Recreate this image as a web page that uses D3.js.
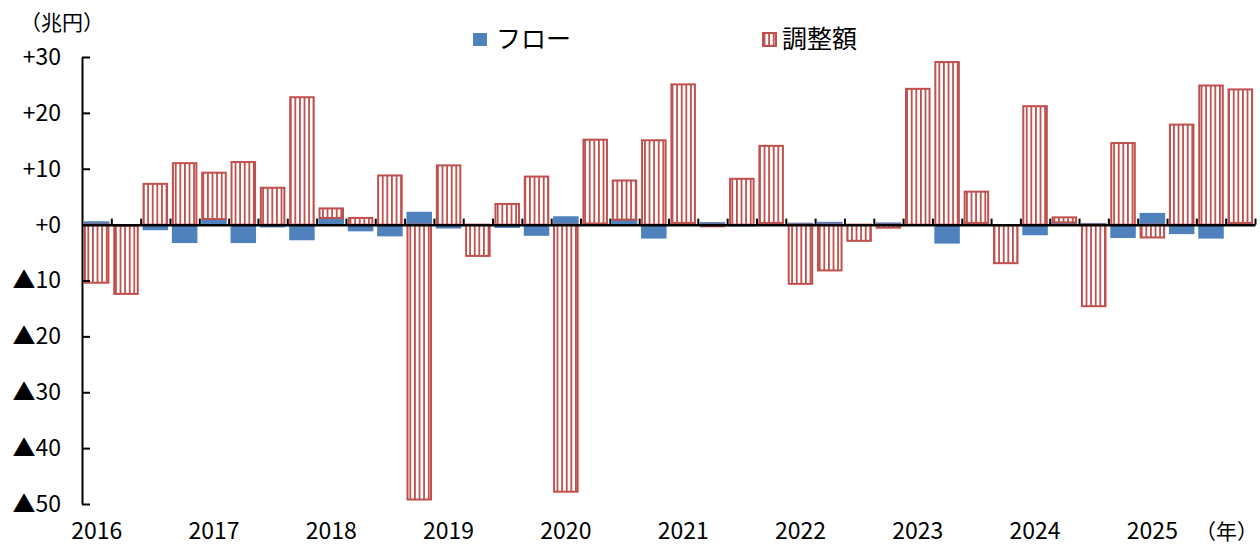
<!DOCTYPE html>
<html>
<head>
<meta charset="utf-8">
<script src="https://cdn.jsdelivr.net/npm/d3@7"></script>
<style>
  body { margin: 0; background: #fff; }
  text { font-family: "Noto Sans CJK JP", "Noto Sans", sans-serif; fill: #000; }
</style>
</head>
<body>
<div id="chart"></div>
<script>
var width = 1260;
var height = 547;

// years on the axis, one label per first quarter
var years = ["2016", "2017", "2018", "2019", "2020", "2021", "2022", "2023", "2024", "2025"];
var quarters = years.flatMap(function(y) { return ["Q1", "Q2", "Q3", "Q4"].map(function(q) { return y + q; }); });

// フロー (兆円)
var flow = [0.6, -0.2, -1.0, -3.3, 1.0, -3.3, -0.5, -2.8,
            1.2, -1.2, -2.1, 2.3, -0.7, 0.1, -0.6, -2.0,
            1.5, 0.2, 0.9, -2.5, 0.3, 0.45, -0.35, 0.3,
            0.35, 0.5, 0.1, 0.4, -0.2, -3.4, 0.3, -0.1,
            -1.9, 0.4, 0.3, -2.4, 2.1, -1.7, -2.5, 0.3];

// 調整額 (兆円)
var adjustment = [-10.4, -12.2, 7.3, 11.0, 8.3, 11.2, 6.6, 22.8,
                  1.7, 1.2, 8.8, -49.2, 10.6, -5.6, 3.7, 8.6,
                  -47.8, 15.0, 7.0, 15.1, 24.8, -0.3, 8.2, 13.8,
                  -10.6, -8.2, -2.9, -0.55, 24.3, 29.1, 5.6, -6.8,
                  21.2, 0.9, -14.6, 14.6, -2.3, 17.9, 24.9, 23.9];

var yTicks = [30, 20, 10, 0, -10, -20, -30, -40, -50];

var blue = "#4F81BD";
var red = "#C0504D";

var table = quarters.map(function(q, i) {
  return { q: q, flow: flow[i], adj: adjustment[i] };
});

var series = d3.stack()
  .keys(["flow", "adj"])
  .offset(d3.stackOffsetDiverging)(table);

var svg = d3.select("#chart")
  .append("svg")
  .attr("width", width)
  .attr("height", height);

// vertical stripe pattern for 調整額
var defs = svg.append("defs");
var pat = defs.append("pattern")
  .attr("id", "stripes")
  .attr("patternUnits", "userSpaceOnUse")
  .attr("width", 4.6)
  .attr("height", 10);
pat.append("rect").attr("width", 4.6).attr("height", 10).attr("fill", "#fff");
pat.append("rect").attr("x", 0).attr("width", 1.8).attr("height", 10).attr("fill", red);

var x = d3.scaleBand()
  .domain(quarters)
  .range([82, 1255])
  .paddingInner(0.13)
  .paddingOuter(0.065);

var edges = d3.scaleLinear()
  .domain([0, quarters.length])
  .range([82, 1255]);

var y = d3.scaleLinear()
  .domain([-50, 30])
  .range([504, 57]);

// bars
svg.append("g")
  .selectAll("g")
  .data(series)
  .join("g")
  .each(function(s) {
    d3.select(this).selectAll("rect")
      .data(s)
      .join("rect")
      .attr("x", d => x(d.data.q) + (s.key == "adj" ? 1 : 0))
      .attr("width", x.bandwidth() - (s.key == "adj" ? 2 : 0))
      .attr("y", d => y(Math.max(d[0], d[1])))
      .attr("height", d => Math.abs(y(d[0]) - y(d[1])))
      .attr("fill", s.key == "flow" ? blue : "url(#stripes)")
      .attr("stroke", s.key == "flow" ? "none" : red)
      .attr("stroke-width", 2);
  });

// y axis
function fmt(v) {
  if (v > 0) return "+" + v;
  if (v == 0) return "+0";
  return "\u25B2" + (-v);
}

var yAxis = svg.append("g")
  .attr("transform", "translate(82,0)")
  .call(d3.axisLeft(y).tickValues(yTicks).tickFormat(fmt).tickSize(-8).tickSizeOuter(0).tickPadding(21));

yAxis.select(".domain").attr("stroke", "#000").attr("stroke-width", 2);
yAxis.selectAll(".tick line").attr("stroke", "#000").attr("stroke-width", 2);
yAxis.selectAll("text").style("font-size", "23px").attr("fill", "#000");

// zero line with quarter ticks
var zeroAxis = svg.append("g")
  .attr("transform", "translate(0," + y(0) + ")")
  .call(d3.axisTop(edges).tickValues(d3.range(1, quarters.length + 1)).tickSize(6).tickSizeOuter(0).tickFormat(""));

zeroAxis.select(".domain").attr("stroke", "#000").attr("stroke-width", 2.5);
zeroAxis.selectAll(".tick line").attr("stroke", "#000").attr("stroke-width", 2);

// year labels
var xAxis = svg.append("g")
  .attr("transform", "translate(0,520)")
  .call(d3.axisBottom(x)
    .tickValues(quarters.filter(q => q.endsWith("Q1")))
    .tickFormat(q => q.slice(0, 4))
    .tickSize(0)
    .tickPadding(3));

xAxis.select(".domain").remove();
xAxis.selectAll("text").style("font-size", "23px").attr("fill", "#000");

svg.append("text")
  .attr("x", 1258)
  .attr("y", 539)
  .attr("text-anchor", "end")
  .style("font-size", "21px")
  .text("（年）");

svg.append("text")
  .attr("x", 20)
  .attr("y", 30)
  .style("font-size", "21px")
  .text("（兆円）");

// legend
var legend = svg.append("g");
legend.append("rect")
  .attr("x", 473).attr("y", 33).attr("width", 14).attr("height", 13)
  .attr("fill", blue);
legend.append("text")
  .attr("x", 496).attr("y", 48)
  .style("font-size", "25px")
  .text("フロー");
legend.append("rect")
  .attr("x", 763).attr("y", 33).attr("width", 13).attr("height", 13)
  .attr("fill", "url(#stripes)")
  .attr("stroke", red)
  .attr("stroke-width", 2);
legend.append("text")
  .attr("x", 782).attr("y", 48)
  .style("font-size", "25px")
  .text("調整額");
</script>
</body>
</html>
